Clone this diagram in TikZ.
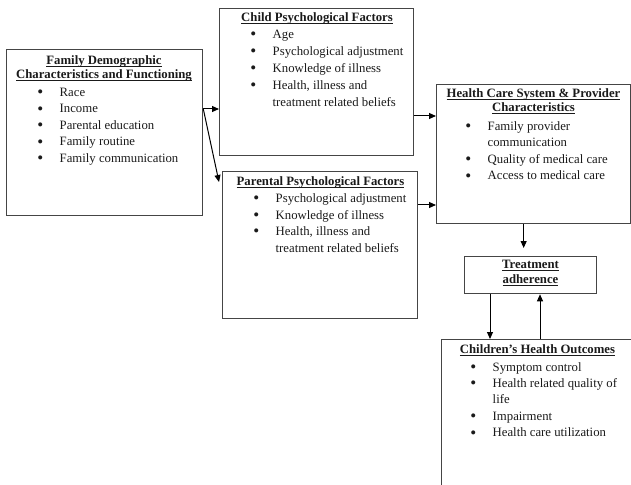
\documentclass[tikz,border=0pt]{standalone}
\usepackage{fontspec}
\setmainfont{Liberation Serif}
\usetikzlibrary{arrows.meta,calc}
\definecolor{boxgray}{HTML}{454545}
\definecolor{txt}{HTML}{1A1A1A}
\newcommand\ulinetxt[1]{\setbox0\hbox{#1}\rlap{\rule[-2.8bp]{\wd0}{1bp}}\box0}
\newcommand\bitem{\makebox[21.5bp][l]{\hspace{-0.8bp}{\fontsize{17}{17}\selectfont\raisebox{-1.3bp}{\textbullet}}}}
\tikzset{
  box/.style={draw=boxgray, line width=1.3bp, anchor=north west, inner sep=0pt},
  ttl/.style={text=txt, font=\bfseries\fontsize{12.8}{14}\selectfont, inner sep=0pt, anchor=base},
  lst/.style={text=txt, font=\fontsize{12.8}{16.5}\selectfont, inner sep=0pt, anchor=base west},
  arr/.style={draw=black, line width=1bp, -{Triangle[length=7bp,width=6bp]}},
}
\begin{document}
\begin{tikzpicture}[x=1bp,y=-1bp]
\useasboundingbox (0,0) rectangle (631,485);
\begin{scope}
\clip (0,0) rectangle (631,485);
% boxes
\node[box, minimum width=196bp, minimum height=166bp] (fam) at (6,49) {};
\node[box, minimum width=194bp, minimum height=147bp] (child) at (219,8) {};
\node[box, minimum width=195bp, minimum height=147bp] (par) at (222,171) {};
\node[box, minimum width=194bp, minimum height=139bp] (hc) at (436,84) {};
\node[box, minimum width=132bp, minimum height=37bp] (treat) at (464,256) {};
\node[box, minimum width=193bp, minimum height=200bp] (cho) at (441,339) {};
\end{scope}

% titles
\node[ttl] (famt) at (104,64.5) {\begin{tabular}[t]{@{}c@{}}\ulinetxt{Family Demographic}\\ \ulinetxt{Characteristics and Functioning}\end{tabular}};
\node[ttl] (childt) at (317,21.5) {\ulinetxt{Child Psychological Factors}};
\node[ttl] (part) at (320.5,185.5) {\ulinetxt{Parental Psychological Factors}};
\node[ttl] (hct) at (533.5,97.5) {\begin{tabular}[t]{@{}c@{}}\ulinetxt{Health Care System \& Provider}\\ \ulinetxt{Characteristics}\end{tabular}};
\node[ttl, font=\bfseries\fontsize{12.8}{15}\selectfont] (treatt) at (530.5,268.5) {\begin{tabular}[t]{@{}c@{}}\ulinetxt{Treatment}\\ \ulinetxt{adherence}\end{tabular}};
\node[ttl] (chot) at (537.5,353.5) {\ulinetxt{Children's Health Outcomes}};

% lists
\node[lst] (faml) at (38,96.5) {\begin{tabular}[t]{@{}l@{}l@{}}
\bitem & Race\\ \bitem & Income\\ \bitem & Parental education\\ \bitem & Family routine\\ \bitem & Family communication\end{tabular}};
\node[lst, font=\fontsize{12.8}{17}\selectfont] (childl) at (251,38.5) {\begin{tabular}[t]{@{}l@{}l@{}}
\bitem & Age\\ \bitem & Psychological adjustment\\ \bitem & Knowledge of illness\\ \bitem & Health, illness and\\ & treatment related beliefs\end{tabular}};
\node[lst, font=\fontsize{12.8}{16.6}\selectfont] (parl) at (254,202.5) {\begin{tabular}[t]{@{}l@{}l@{}}
\bitem & Psychological adjustment\\ \bitem & Knowledge of illness\\ \bitem & Health, illness and\\ & treatment related beliefs\end{tabular}};
\node[lst] (hcl) at (466,130.5) {\begin{tabular}[t]{@{}l@{}l@{}}
\bitem & Family provider\\ & communication\\ \bitem & Quality of medical care\\ \bitem & Access to medical care\end{tabular}};
\node[lst] (chol) at (471,371) {\begin{tabular}[t]{@{}l@{}l@{}}
\bitem & Symptom control\\ \bitem & Health related quality of\\ & life\\ \bitem & Impairment\\ \bitem & Health care utilization\end{tabular}};

% connectors
\draw[arr] ($(fam.north east)+(0,60)$) coordinate (br) -- (child.west |- br);
\draw[arr] (br) -- ($(par.north west)+(-3,11)$);
\draw[arr] ($(child.north east)+(0,108)$) coordinate (c1) -- (hc.west |- c1);
\draw[arr] ($(par.north east)+(0,34)$) coordinate (p1) -- (hc.west |- p1);
\draw[arr] ($(hc.south)+(-10,0)$) coordinate (h1) -- ($(h1 |- treat.north)+(0,-8)$);
\draw[arr] ($(treat.south west)+(26,0)$) coordinate (t1) -- (t1 |- cho.north);
\draw[arr] ($(cho.north west)+(99,0)$) coordinate (t2) -- (t2 |- treat.south);
\end{tikzpicture}
\end{document}
